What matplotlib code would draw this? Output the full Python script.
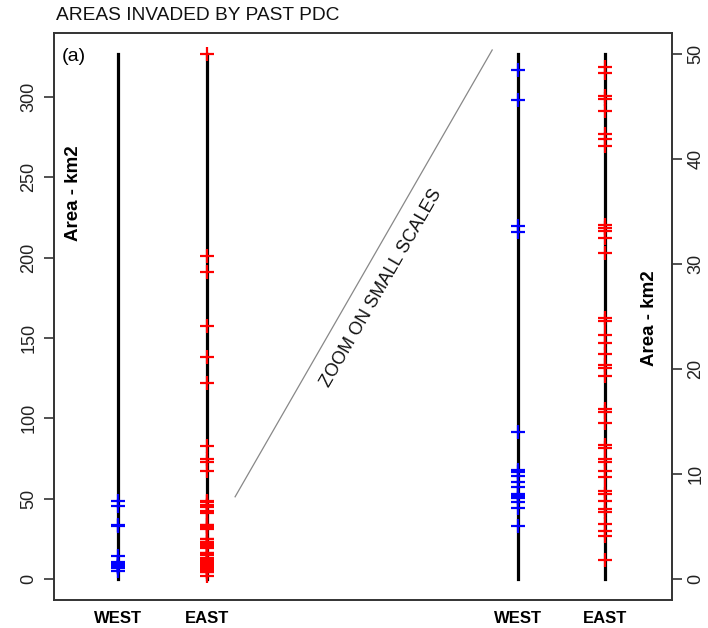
import matplotlib
matplotlib.use("Agg")
import matplotlib.pyplot as plt
import numpy as np

plt.rcParams['font.family'] = ['Liberation Sans', 'DejaVu Sans']

# ---- data (km2) ----
categories = ["WEST", "EAST", "WEST", "EAST"]
west = [48.5, 45.6, 33.6, 33.0, 14.0, 10.4, 10.2, 9.8, 9.2, 8.8, 8.1, 7.9,
        7.7, 7.3, 6.8, 5.0]
east = [326.7, 201, 191, 157.5, 138, 122, 83, 74.5, 72.5, 67,
        48.8, 48.2, 46.0, 45.7, 44.6, 42.4, 41.9, 41.2,
        33.7, 33.4, 33.1, 32.5, 31.0, 24.9, 24.6, 23.2, 22.5, 21.4,
        20.4, 20.1, 19.3, 16.2, 15.9, 14.9, 12.8, 12.5, 11.4, 11.1,
        10.3, 9.7, 8.4, 8.1, 7.45, 6.7, 6.4, 5.2, 4.6, 4.1, 1.8]
left_ticks = [0, 50, 100, 150, 200, 250, 300]
right_ticks = [0, 10, 20, 30, 40, 50]
zoom_max = 50

# ---- layout ----
xpos = [1.036, 2.476, 7.508, 8.916]
fig = plt.figure(figsize=(7.08, 6.28), dpi=100)
ax = fig.add_axes([0.0763, 0.0446, 0.8729, 0.9029])
ax2 = ax.twinx()

lmax = max(max(west), max(east))
pad = 0.04 * lmax
ax.set_ylim(-pad, lmax + pad)
ax.set_xlim(0, 10)
ax2.set_ylim(-0.04 * zoom_max, zoom_max * 1.04)

lw = 2.3
ms = 10.5
mew = 1.6
# left panel (full scale)
ax.plot([xpos[0], xpos[0]], [0, lmax], color='black', lw=lw, zorder=2)
ax.plot([xpos[1], xpos[1]], [0, lmax], color='black', lw=lw, zorder=2)
ax.plot([xpos[0]] * len(west), west, linestyle='none', marker='+', ms=ms,
        mew=mew, color='#0000ff', zorder=3)
ax.plot([xpos[1]] * len(east), east, linestyle='none', marker='+', ms=ms,
        mew=mew, color='#ff0000', zorder=3)

# right panel (zoom)
west_z = [v for v in west if v <= zoom_max]
east_z = [v for v in east if v <= zoom_max]
ax2.plot([xpos[2], xpos[2]], [0, zoom_max], color='black', lw=lw, zorder=2)
ax2.plot([xpos[3], xpos[3]], [0, zoom_max], color='black', lw=lw, zorder=2)
ax2.plot([xpos[2]] * len(west_z), west_z, linestyle='none', marker='+',
         ms=ms, mew=mew, color='#0000ff', zorder=3)
ax2.plot([xpos[3]] * len(east_z), east_z, linestyle='none', marker='+',
         ms=ms, mew=mew, color='#ff0000', zorder=3)

# axes styling
for a in (ax, ax2):
    for s in a.spines.values():
        s.set_linewidth(1.2)
        s.set_color('#333333')
ax.set_yticks(left_ticks)
ax.set_yticklabels([str(t) for t in left_ticks], rotation=90, va='center',
                   fontsize=13, color='#222222')
ax2.set_yticks(right_ticks)
ax2.set_yticklabels([str(t) for t in right_ticks], rotation=90, va='center',
                    fontsize=13, color='#222222')
ax.tick_params(axis='y', length=7, width=1.2, pad=5, color='#333333')
ax2.tick_params(axis='y', length=7, width=1.2, pad=4, color='#333333')
ax.set_xticks(xpos)
ax.set_xticklabels(categories, fontsize=12, fontweight='bold')
ax.tick_params(axis='x', length=0, pad=8)

# annotations
fig.text(0.079, 0.976, "AREAS INVADED BY PAST PDC", fontsize=13.8,
         ha='left', va='center', color='#111111')
ax.text(0.012, 0.958, "(a)", transform=ax.transAxes, fontsize=14,
        ha='left', va='center')
ax.text(0.031, 0.718, "Area - km2", transform=ax.transAxes, fontsize=13.5,
        fontweight='bold', rotation=90, ha='center', va='center')
ax.text(0.964, 0.497, "Area - km2", transform=ax.transAxes, fontsize=13.5,
        fontweight='bold', rotation=90, ha='center', va='center')
ax.plot([0.293, 0.709], [0.182, 0.970], transform=ax.transAxes,
        color='#888888', lw=0.9)
ax.text(0.530, 0.550, "ZOOM ON SMALL SCALES", transform=ax.transAxes,
        fontsize=13, rotation=60, ha='center', va='center', color='#111111')

fig.savefig("out.png", dpi=100)
